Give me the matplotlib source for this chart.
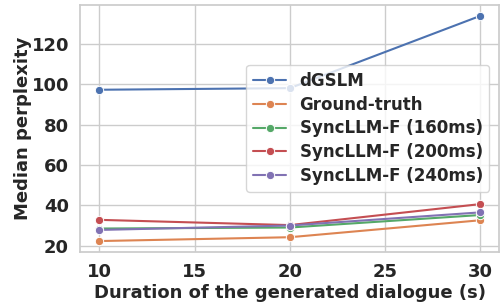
import numpy as np
import seaborn as sns
from matplotlib import pyplot as plt

durations = [10, 20, 30]
dgslm = [97.2, 98.0, 133.8]
ground_truth = [22.3, 24.2, 32.6]
sync_160 = [28.5, 29.0, 35.2]
sync_200 = [32.8, 30.2, 40.6]
sync_240 = [27.8, 30.0, 36.5]

series = [('dGSLM', dgslm),
          ('Ground-truth', ground_truth),
          ('SyncLLM-F (160ms)', sync_160),
          ('SyncLLM-F (200ms)', sync_200),
          ('SyncLLM-F (240ms)', sync_240)]

sns.set_theme(style='whitegrid', palette='deep')
plt.rcParams['font.family'] = ['DejaVu Sans']
plt.rcParams['font.weight'] = 'bold'
plt.rcParams['axes.labelweight'] = 'bold'

fig, ax = plt.subplots(figsize=(5.01, 3.04), dpi=100)
for name, vals in series:
    ax.plot(durations, vals, marker='o', markersize=6, markeredgecolor='white',
            markeredgewidth=0.7, linewidth=1.5, label=name)

ax.set_xticks([10, 15, 20, 25, 30])
ax.set_yticks([20, 40, 60, 80, 100, 120])
ax.tick_params(labelsize=13, pad=2)
ax.set_xlabel('Duration of the generated dialogue (s)', fontsize=13, labelpad=2)
ax.set_ylabel('Median perplexity', fontsize=13, labelpad=0)
ax.legend(loc='center right', fontsize=12, labelspacing=0.35,
          borderaxespad=0.6)
fig.subplots_adjust(left=0.16, right=0.997, top=0.985, bottom=0.17)
plt.savefig('out.png', dpi=100)
